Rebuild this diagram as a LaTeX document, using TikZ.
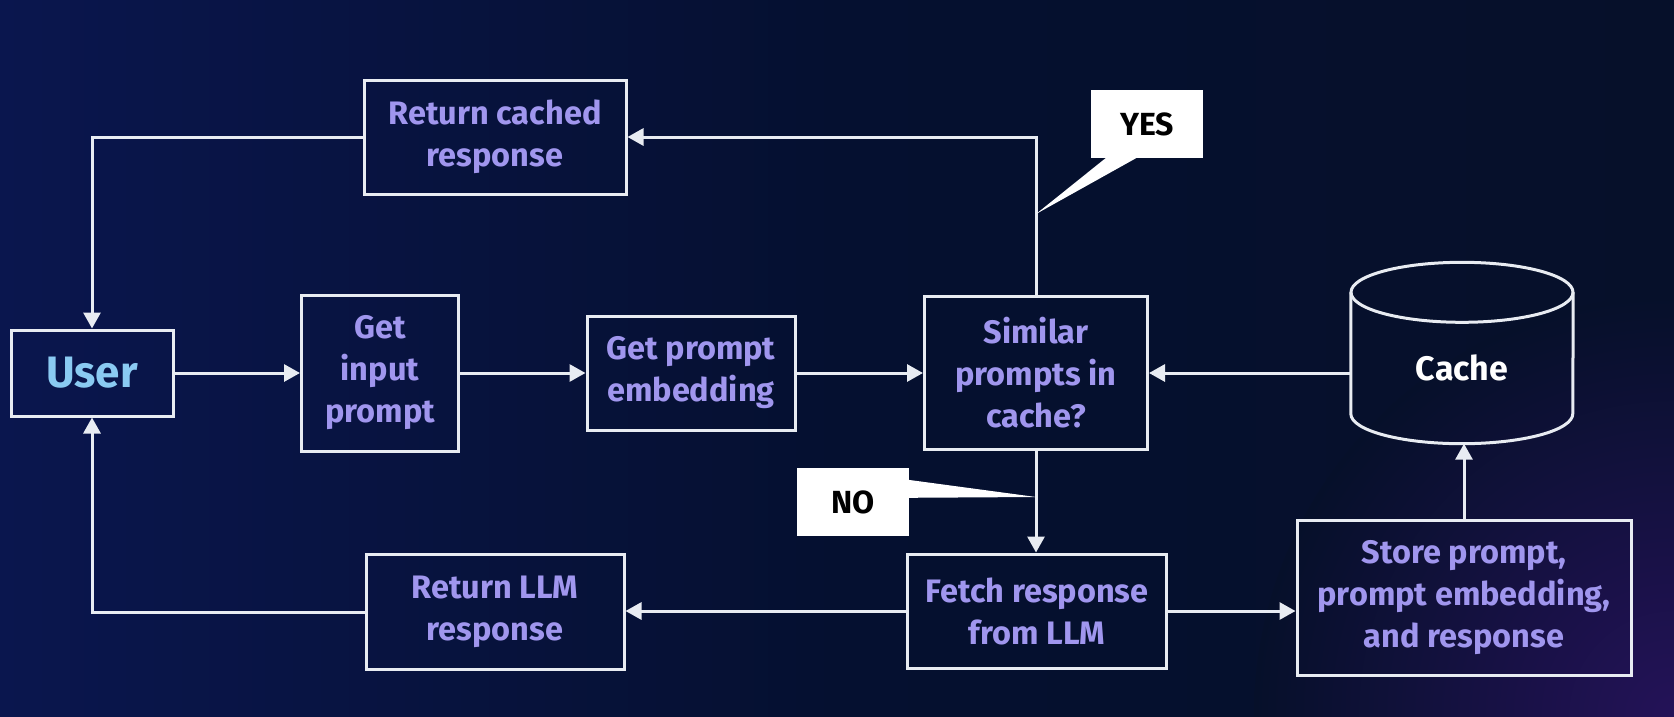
\documentclass[tikz,border=0pt]{standalone}
\usepackage{fontspec}
\setmainfont{Fira Sans}
\usetikzlibrary{arrows.meta}
\definecolor{bgleft}{RGB}{10,22,78}
\definecolor{bgmid}{RGB}{5,16,48}
\definecolor{bgright}{RGB}{6,16,42}
\definecolor{bgcorner}{RGB}{36,18,88}
\definecolor{linecol}{RGB}{232,236,242}
\definecolor{textcol}{RGB}{160,150,238}
\definecolor{usercol}{RGB}{138,202,242}

\begin{document}
\begin{tikzpicture}[x=1pt, y=1pt,
		box/.style={draw=linecol, line width=3pt, align=center, text=textcol,
				font=\fontsize{32.5}{42}\selectfont\bfseries, inner sep=0pt},
		flow/.style={draw=linecol, line width=3pt, -{Triangle[length=16pt, width=17pt]}},
		callout/.style={fill=white, text=black, font=\fontsize{32}{36}\selectfont\bfseries,
				minimum width=112pt, minimum height=68pt}]

	% =============================================
	%  BACKGROUND
	% =============================================

	\shade[left color=bgleft, right color=bgright, middle color=bgmid]
	(0,0) rectangle (1674,-716);
	\begin{scope}
		\clip (0,0) rectangle (1674,-716);
		\shade[inner color=bgcorner, outer color=bgright] (1674,-716) circle (420);
	\end{scope}
	\useasboundingbox (0,0) rectangle (1674,-716);

	% =============================================
	%  BOXES
	% =============================================

	% --- Middle row ---
	\node[box, minimum width=162pt, minimum height=86pt, text=usercol,
		font=\fontsize{44}{50}\selectfont\bfseries] (user) at (92,-373) {User};
	\node[box, minimum width=157pt, minimum height=156pt] (getin) at (380,-373)
	{Get\\input\\prompt};
	\node[box, minimum width=208pt, minimum height=114pt] (embed) at (691,-373)
	{Get prompt\\embedding};
	\node[box, minimum width=223pt, minimum height=153pt] (similar) at (1036,-373)
	{Similar\\prompts in\\cache?};

	% --- Top and bottom rows ---
	\node[box, minimum width=262pt, minimum height=114pt] (retcache) at (495,-137)
	{Return cached\\response};
	\node[box, minimum width=258pt, minimum height=115pt] (retllm) at (495,-612)
	{Return LLM\\response};
	\node[box, minimum width=259pt, minimum height=114pt] (fetch) at (1037,-611)
	{Fetch response\\from LLM};
	\node[box, minimum width=334pt, minimum height=155pt] (store) at (1464,-598)
	{Store prompt,\\prompt embedding,\\and response};

	% --- Cache cylinder ---
	\node[minimum width=222pt, minimum height=181pt, inner sep=0pt] (cache) at (1462,-353) {};
	\draw[linecol, line width=3pt] ([yshift=-30pt]cache.north) ellipse [x radius=111pt, y radius=30pt];
	\draw[linecol, line width=3pt] ([yshift=-30pt]cache.north west)
	-- ([yshift=30pt]cache.south west)
	arc[start angle=180, end angle=360, x radius=111pt, y radius=30pt]
	-- ([yshift=-30pt]cache.north east);
	\node[text=white, font=\fontsize{34}{38}\selectfont\bfseries] (cachelabel)
	at ([yshift=-15pt]cache.center) {Cache};

	% =============================================
	%  CONNECTORS
	% =============================================

	\draw[flow] (user.east) -- (getin.west);
	\draw[flow] (getin.east) -- (embed.west);
	\draw[flow] (embed.east) -- (similar.west);
	\draw[flow] (cache.west |- similar.east) -- (similar.east);
	\draw[flow] (similar.north) |- (retcache.east);
	\draw[flow] (retcache.west) -| (user.north);
	\draw[flow] (similar.south) -- (similar.south |- fetch.north);
	\draw[flow] (fetch.west) -- (fetch.west -| retllm.east);
	\draw[flow] (retllm.west) -| (user.south);
	\draw[flow] (fetch.east) -- (fetch.east -| store.west);
	\draw[flow] (store.north) -- (store.north |- cache.south);

	% =============================================
	%  CALLOUTS
	% =============================================

	% YES
	\node[callout] (yes) at (1147,-124) {YES};
	\coordinate (yestip) at ([yshift=81pt]similar.north);
	\fill[white] ([xshift=16pt, yshift=1pt]yes.south west) -- (yestip)
	-- ([xshift=47pt, yshift=1pt]yes.south west) -- cycle;

	% NO
	\node[callout] (no) at (853,-502) {NO};
	\coordinate (notip) at ([yshift=-46pt]similar.south);
	\fill[white] ([xshift=-1pt, yshift=-12pt]no.north east) -- (notip)
	-- ([xshift=-1pt, yshift=-30pt]no.north east) -- cycle;

\end{tikzpicture}
\end{document}
